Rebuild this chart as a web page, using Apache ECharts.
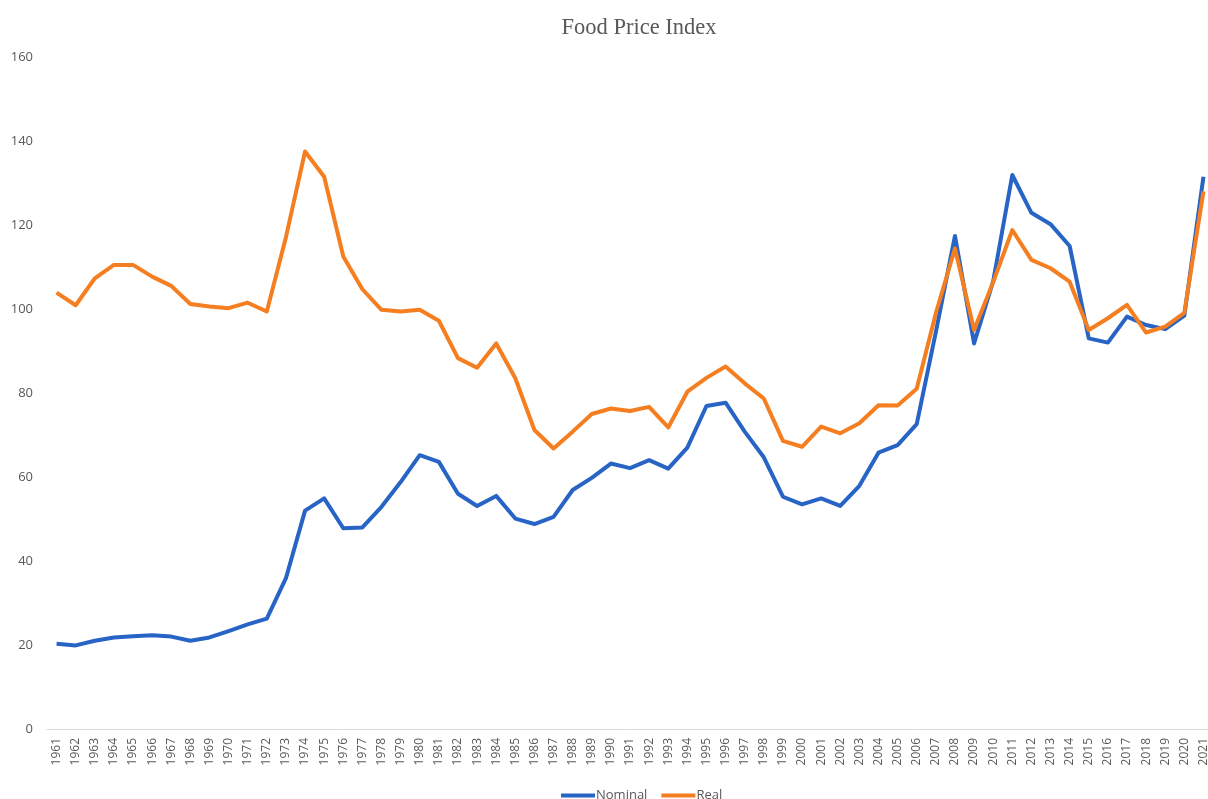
<!DOCTYPE html>
<html>
<head>
<meta charset="utf-8">
<title>Food Price Index</title>
<script src="https://cdn.jsdelivr.net/npm/echarts@6/dist/echarts.min.js"></script>
<style>
  html, body { margin: 0; padding: 0; background: #fff; }
  #chart { width: 1208px; height: 799px; }
</style>
</head>
<body>
<div id="chart"></div>
<script>
// years 1961 - 2021
var years = [];
for (var y = 1961; y <= 2021; y++) { years.push(String(y)); }

// nominal index
var nominal = [
  20.3, 19.9, 21.0, 21.8, 22.1, 22.3, 22.0, 21.0, 21.8, 23.3,
  24.9, 26.3, 35.9, 52.0, 54.9, 47.8, 48.0, 52.9, 58.8, 65.2,
  63.6, 56.0, 53.1, 55.5, 50.1, 48.8, 50.5, 56.9, 59.8, 63.2,
  62.1, 64.0, 62.0, 67.0, 76.9, 77.7, 70.8, 64.7, 55.3, 53.5,
  54.9, 53.1, 57.9, 65.8, 67.6, 72.6, 94.5, 117.4, 91.8, 106.6,
  131.9, 122.9, 120.2, 115.0, 93.0, 92.0, 98.2, 96.2, 95.2, 98.4,
  131.5
];

// real index
var real = [
  103.9, 100.9, 107.3, 110.5, 110.5, 107.7, 105.5, 101.2, 100.6, 100.2,
  101.5, 99.4, 117.1, 137.5, 131.5, 112.5, 104.7, 99.8, 99.4, 99.8,
  97.2, 88.3, 86.0, 91.8, 83.5, 71.2, 66.8, 70.8, 75.0, 76.3,
  75.7, 76.7, 71.8, 80.3, 83.6, 86.3, 82.3, 78.7, 68.6, 67.2,
  72.0, 70.4, 72.8, 77.1, 77.0, 81.0, 99.0, 114.4, 95.0, 106.4,
  118.8, 111.7, 109.7, 106.5, 95.0, 97.8, 101.0, 94.4, 95.8, 99.1,
  128.0
];

var myChart = echarts.init(document.getElementById('chart'));
var txt = '#595959';
var option = {
  animation: false,
  title: {
    text: 'Food Price Index',
    left: 634,
    textAlign: 'center',
    top: 12,
    textStyle: { fontFamily: 'Liberation Serif', fontWeight: 'normal', fontSize: 22.5, color: txt }
  },
  legend: {
    top: 784,
    left: 556,
    icon: 'rect',
    itemWidth: 34,
    itemHeight: 4,
    itemGap: 14,
    textStyle: { fontFamily: 'Open Sans', fontSize: 13, color: txt, padding: [0, 0, 0, -4] },
    data: ['Nominal', 'Real']
  },
  // the plot runs a little past the right edge, as in the source picture
  grid: { left: 47, width: 1166, top: 57, bottom: 70, outerBoundsMode: 'none' },
  xAxis: {
    type: 'category',
    data: years,
    boundaryGap: true,
    axisLine: { lineStyle: { color: '#d9d9d9', width: 1 } },
    axisTick: { show: false },
    axisLabel: { rotate: 90, interval: 0, margin: 9, fontFamily: 'Open Sans', fontSize: 12, color: txt }
  },
  yAxis: {
    type: 'value',
    min: 0,
    max: 160,
    interval: 20,
    splitLine: { show: false },
    axisLine: { show: false },
    axisTick: { show: false },
    axisLabel: { margin: 14, fontFamily: 'Open Sans', fontSize: 13, color: txt }
  },
  series: [
    {
      name: 'Nominal',
      type: 'line',
      data: nominal,
      showSymbol: false,
      color: '#2764c5',
      lineStyle: { width: 4, color: '#2764c5', join: 'round' }
    },
    {
      name: 'Real',
      type: 'line',
      data: real,
      showSymbol: false,
      color: '#f47e20',
      lineStyle: { width: 4, color: '#f47e20', join: 'round' }
    }
  ]
};
myChart.setOption(option);
</script>
</body>
</html>
